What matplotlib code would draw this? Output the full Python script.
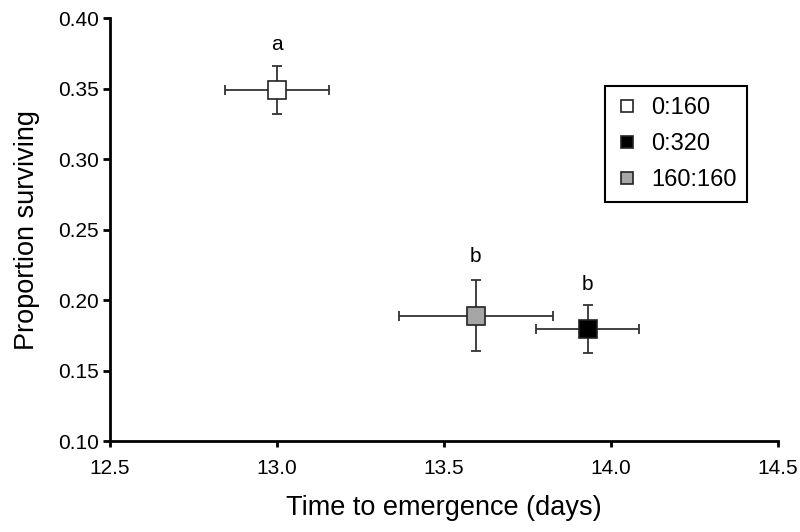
import matplotlib
matplotlib.use("Agg")
import matplotlib.pyplot as plt

groups = ["0:160", "0:320", "160:160"]
time_days = [13.0, 13.93, 13.595]
time_err = [0.155, 0.155, 0.23]
surviving = [0.349, 0.1795, 0.189]
surv_err = [0.017, 0.017, 0.025]
face_colors = ["white", "black", "#a6a6a6"]
letters = ["a", "b", "b"]
letter_y = [0.381, 0.211, 0.231]

plt.rcParams['font.family'] = ['Liberation Sans', 'DejaVu Sans']

fig = plt.figure(figsize=(8, 5.32), dpi=100)
ax = fig.add_axes([0.1375, 0.171, 0.835, 0.795])

for g, x, xe, y, ye, fc in zip(groups, time_days, time_err, surviving, surv_err, face_colors):
    ax.errorbar(x, y, xerr=xe, yerr=ye, fmt='none', ecolor='#333333',
                elinewidth=1.3, capsize=3.5, capthick=1.3, zorder=2)
    ax.plot(x, y, marker='s', markersize=13, markerfacecolor=fc,
            markeredgecolor='#222222', markeredgewidth=1.2, linestyle='none',
            zorder=3, label=g)

for x, ly, t in zip(time_days, letter_y, letters):
    ax.text(x, ly, t, ha='center', va='center', fontsize=15)

ax.set_xlim(12.5, 14.5)
ax.set_ylim(0.10, 0.40)
ax.set_xticks([12.5, 13.0, 13.5, 14.0, 14.5])
ax.set_yticks([0.10, 0.15, 0.20, 0.25, 0.30, 0.35, 0.40])
ax.set_xticklabels([f"{v:.1f}" for v in ax.get_xticks()])
ax.set_yticklabels([f"{v:.2f}" for v in ax.get_yticks()])
ax.tick_params(labelsize=15, width=2, length=5, direction='out')
ax.tick_params(axis='x', length=4, pad=9)
ax.tick_params(axis='y', pad=3)
for s in ['top', 'right']:
    ax.spines[s].set_visible(False)
for s in ['left', 'bottom']:
    ax.spines[s].set_linewidth(2)

ax.set_xlabel("Time to emergence (days)", fontsize=19.5, labelpad=12)
ax.set_ylabel("Proportion surviving", fontsize=19.5, labelpad=13)

handles, labels = ax.get_legend_handles_labels()
leg = ax.legend(handles, labels, loc='upper right', bbox_to_anchor=(0.9536, 0.839),
                fontsize=17, markerscale=0.7, handlelength=1.0, handletextpad=0.5,
                fancybox=False, edgecolor='black', framealpha=1, borderpad=0.45,
                labelspacing=0.6, borderaxespad=0)
leg.get_frame().set_linewidth(1.5)

fig.savefig("out.png", dpi=100)
